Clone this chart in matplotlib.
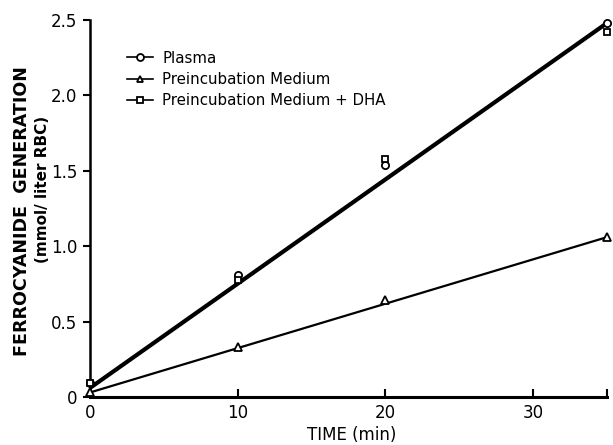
import matplotlib
matplotlib.use("Agg")
import matplotlib.pyplot as plt
import numpy as np
from matplotlib.lines import Line2D

time_min = [0, 10, 20, 35]
plasma = [0.09, 0.81, 1.54, 2.48]
preinc = [0.03, 0.33, 0.64, 1.06]
preinc_dha = [0.09, 0.775, 1.58, 2.42]

fit_x = [0, 35]
fit_upper = [0.06, 2.48]
fit_lower = [0.03, 1.06]

xticks = [0, 10, 20, 30, 35]
xticklabels = ["0", "10", "20", "30", ""]
yticks = [0, 0.5, 1.0, 1.5, 2.0, 2.5]
yticklabels = ["0", "0.5", "1.0", "1.5", "2.0", "2.5"]

plt.rcParams['font.family'] = ['DejaVu Sans']

fig = plt.figure(figsize=(6.13, 4.45), dpi=100)
ax = fig.add_axes([90/613, 1-397/445, (607-90)/613, (397-20)/445])

ax.plot(fit_x, fit_upper, color='black', lw=3.0, solid_capstyle='butt', zorder=2)
ax.plot(fit_x, fit_lower, color='black', lw=1.6, solid_capstyle='butt', zorder=2)

mk = dict(ls='none', mfc='white', mec='black', mew=1.3, ms=5.2, zorder=3, clip_on=False)
ax.plot(time_min, plasma, marker='o', **mk)
ax.plot(time_min, preinc, marker='^', **mk)
ax.plot(time_min, preinc_dha, marker='s', **dict(mk, ms=4.8))

h1 = Line2D([], [], color='black', lw=1.2, marker='o', mfc='white', mec='black', mew=1.3, ms=5)
h2 = Line2D([], [], color='black', lw=1.2, marker='^', mfc='white', mec='black', mew=1.3, ms=5)
h3 = Line2D([], [], color='black', lw=1.2, marker='s', mfc='white', mec='black', mew=1.3, ms=4.6)
leg = ax.legend([h1, h2, h3], ["Plasma", "Preincubation Medium", "Preincubation Medium + DHA"],
                loc='upper left', bbox_to_anchor=(0.06, 0.935), frameon=False,
                fontsize=10.8, handlelength=1.75, handletextpad=0.6, labelspacing=0.42,
                borderaxespad=0)

ax.set_xlim(0, 35)
ax.set_ylim(0, 2.5)
ax.spines['top'].set_visible(False)
ax.spines['right'].set_visible(False)
ax.spines['left'].set_linewidth(1.8)
ax.spines['bottom'].set_linewidth(2.2)

ax.set_xticks(xticks)
ax.set_xticklabels(xticklabels)
ax.set_yticks(yticks)
ax.set_yticklabels(yticklabels)
ax.tick_params(axis='x', direction='in', length=6, width=1.5, labelsize=12, pad=5)
ax.tick_params(axis='y', direction='out', length=5, width=1.5, labelsize=12, pad=4)

fig.text(22/613, 1-211/445, "FERROCYANIDE  GENERATION", rotation=90, ha='center', va='center',
         fontsize=12.6, fontweight='bold')
fig.text(43/613, 1-189/445, "(mmol/ liter RBC)", rotation=90, ha='center', va='center',
         fontsize=11, fontweight='bold')
fig.text(352/613, 1-435/445, "TIME (min)", ha='center', va='center', fontsize=12,
         fontweight='medium')

fig.savefig("out.png", dpi=100)
